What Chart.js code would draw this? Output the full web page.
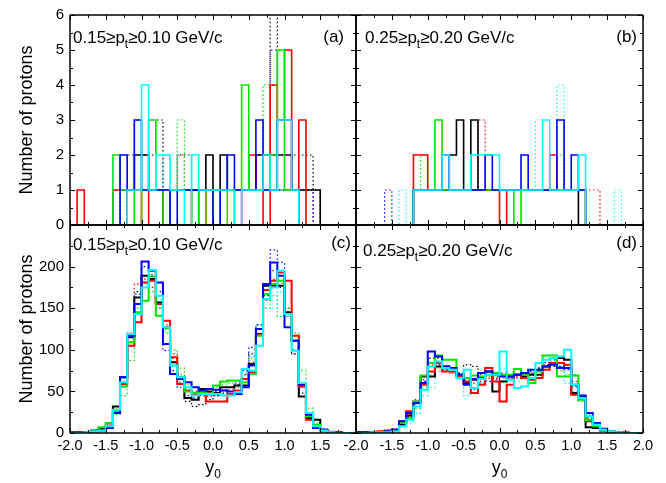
<!DOCTYPE html>
<html>
<head>
<meta charset="utf-8">
<script src="https://cdn.jsdelivr.net/npm/chart.js@4.4.0/dist/chart.umd.min.js"></script>
<style>
  html, body { margin: 0; padding: 0; background: #fff; }
  #wrap { position: relative; width: 666px; height: 483px; }
  #wrap canvas { position: absolute; left: 0; top: 0; }
</style>
</head>
<body>
<div id="wrap">
  <canvas id="pa" width="666" height="483"></canvas>
  <canvas id="pb" width="666" height="483"></canvas>
  <canvas id="pc" width="666" height="483"></canvas>
  <canvas id="pd" width="666" height="483"></canvas>
</div>
<script>
// y0 bins: 40 bins of 0.1 from -2.0 to 2.0
const binStart = -2.0, binWidth = 0.1;
const xTickValues = [-2.0, -1.5, -1.0, -0.5, 0.0, 0.5, 1.0, 1.5, 2.0];
const yTicksTop = [0, 1, 2, 3, 4, 5, 6];
const yTicksBottom = [0, 50, 100, 150, 200];

// (a) 0.15>=pt>=0.10, single events
const a_red    = [0,1,0,0,0,0,1,1,1,1,  0,1,1,0,1,1,1,0,1,0,  1,1,1,0,1,2,1,0,4,3,  5,1,3,0,0,0,0,0,0,0];
const a_green  = [0,0,0,0,0,0,2,1,1,0,  1,3,1,0,1,1,1,0,1,0,  1,0,1,1,4,1,1,1,2,5,  1,1,0,0,0,0,0,0,0,0];
const a_blue   = [0,0,0,0,0,0,0,2,1,3,  1,1,1,1,0,1,1,1,1,1,  0,1,2,1,1,1,3,1,1,3,  3,1,0,0,0,0,0,0,0,0];
const a_black  = [0,0,0,0,0,0,0,0,1,2,  2,1,1,0,1,1,1,1,1,2,  1,2,1,1,1,1,2,2,2,2,  2,1,1,1,1,0,0,0,0,0];
const a_cyan   = [0,0,0,0,0,0,0,0,1,1,  4,1,2,2,1,1,0,2,1,1,  1,1,1,0,1,1,1,2,1,3,  3,1,0,0,0,0,0,0,0,0];
const a_redD   = [0,0,0,0,0,0,1,1,0,1,  1,1,1,1,1,2,1,1,1,1,  0,1,1,1,1,1,1,1,4,1,  1,1,1,1,0,0,0,0,0,0];
const a_greenD = [0,0,0,0,0,0,1,1,1,1,  1,1,1,1,1,3,1,1,0,1,  1,1,1,1,1,1,1,4,1,1,  1,1,1,0,0,0,0,0,0,0];
const a_blueD  = [0,0,0,0,0,0,1,1,2,3,  1,1,1,1,1,1,1,1,1,1,  1,1,1,0,1,1,2,1,5,1,  1,1,1,1,0,0,0,0,0,0];
const a_blackD = [0,0,0,0,0,0,0,1,1,1,  2,2,3,1,1,2,2,1,1,1,  1,1,1,1,1,1,1,1,7,1,  1,2,2,2,1,0,0,0,0,0];
const a_cyanD  = [0,0,0,0,0,0,1,1,1,1,  1,1,1,2,2,1,1,1,1,1,  1,1,1,1,1,1,1,1,1,1,  1,1,0,0,0,0,0,0,0,0];

// (b) 0.25>=pt>=0.20, single events
const b_red    = [0,0,0,0,0,0,0,0,2,2,  1,1,1,1,1,1,1,1,1,1,  0,1,1,1,1,1,1,2,1,1,  1,1,0,0,0,0,0,0,0,0];
const b_green  = [0,0,0,0,0,0,0,0,1,1,  1,3,1,1,1,1,1,1,1,1,  1,1,0,1,1,1,1,1,1,1,  1,1,0,0,0,0,0,0,0,0];
const b_blue   = [0,0,0,0,0,0,0,0,1,1,  1,1,2,1,1,1,1,1,2,1,  1,1,1,2,1,1,1,1,3,1,  2,1,0,0,0,0,0,0,0,0];
const b_black  = [0,0,0,0,0,0,0,0,1,1,  1,1,1,2,3,1,3,1,1,1,  1,1,1,1,1,1,1,1,1,1,  1,0,0,0,0,0,0,0,0,0];
const b_cyan   = [0,0,0,0,0,0,0,0,1,1,  1,1,2,1,1,1,2,2,2,2,  1,1,1,1,1,1,3,1,1,1,  1,2,0,0,0,0,0,0,0,0];
const b_redD   = [0,0,0,0,0,0,0,0,1,1,  1,1,1,1,1,1,1,3,1,1,  1,1,1,1,1,1,1,1,1,1,  1,1,1,1,0,0,0,0,0,0];
const b_greenD = [0,0,0,0,0,0,0,0,1,2,  1,1,1,1,1,1,1,1,1,1,  1,1,1,1,1,1,1,1,2,1,  1,1,0,0,0,0,0,0,0,0];
const b_blueD  = [0,0,0,0,1,0,0,0,1,1,  1,1,1,1,1,1,1,1,1,1,  1,1,1,1,1,1,1,1,1,1,  1,1,0,0,0,0,0,0,0,0];
const b_blackD = [0,0,0,0,0,0,0,0,1,1,  1,1,1,1,1,1,1,1,1,1,  1,1,1,1,1,1,1,1,1,1,  1,0,0,0,0,0,0,0,0,0];
const b_cyanD  = [0,0,0,0,0,0,1,0,1,1,  1,1,1,1,1,1,1,1,1,1,  1,1,1,1,1,3,1,1,4,1,  1,1,0,0,0,0,1,0,0,0];

// (c) 0.15>=pt>=0.10, summed
const c_red    = [0,1,1,2,4,9,28,59,105,133,  181,183,155,135,91,59,51,47,48,38,  38,38,47,51,65,73,118,172,183,193,  183,117,56,16,6,3,1,1,0,0];
const c_green  = [0,0,1,3,7,12,26,56,109,145,  159,188,141,126,81,67,50,48,49,46,  57,62,63,63,61,71,117,167,179,183,  143,111,58,20,10,3,1,0,0,0];
const c_blue   = [0,0,1,2,3,6,24,67,117,155,  206,195,181,107,71,65,61,55,51,53,  52,51,50,47,55,81,125,179,205,189,  127,111,58,22,6,4,1,0,0,0];
const c_black  = [1,1,1,3,5,8,32,67,115,163,  189,185,157,127,85,67,42,40,53,50,  48,55,55,57,57,83,119,177,177,177,  145,111,44,18,16,4,1,1,0,0];
const c_cyan   = [0,0,1,2,3,8,28,61,119,143,  175,196,165,127,81,67,55,45,47,47,  47,45,45,49,77,75,105,161,175,195,  143,99,60,24,8,3,1,0,0,0];
const c_redD   = [0,0,1,2,4,9,25,55,120,179,  185,175,150,130,95,70,55,50,45,44,  45,50,52,55,70,85,120,160,185,180,  150,95,55,22,10,4,2,1,0,0];
const c_greenD = [0,0,1,2,4,8,22,45,87,150,  175,170,150,120,100,78,58,55,52,50,  55,58,60,62,70,90,130,150,165,140,  150,120,75,30,12,5,2,1,0,0];
const c_blueD  = [0,0,1,2,4,9,24,58,115,167,  180,185,170,99,75,55,45,42,50,48,  50,52,55,60,75,103,130,165,220,205,  140,95,55,20,8,3,1,0,0,0];
const c_blackD = [0,1,1,2,4,8,26,60,110,170,  200,190,155,125,90,60,38,32,34,40,  45,48,50,58,70,95,125,160,195,175,  140,100,48,18,8,3,1,0,0,0];
const c_cyanD  = [0,0,1,2,3,8,24,55,110,150,  178,182,160,122,85,62,50,47,48,50,  52,52,55,60,72,92,120,150,150,170,  140,100,55,20,8,3,1,0,0,0];

// (d) 0.25>=pt>=0.20, summed
const d_red    = [1,1,1,2,3,4,14,26,38,58,  74,84,74,74,68,62,48,58,78,62,  38,58,70,66,64,66,76,84,84,82,  46,42,14,8,4,2,1,1,0,0];
const d_green  = [0,1,1,1,2,3,12,18,38,69,  84,93,88,88,70,66,69,68,70,72,  70,70,77,70,60,74,93,93,68,68,  69,40,16,8,4,2,1,0,0,0];
const d_blue   = [1,1,1,1,2,4,14,24,36,60,  98,92,80,78,70,58,65,72,74,70,  68,68,70,72,76,76,80,82,78,78,  58,45,24,12,5,2,1,0,0,0];
const d_black  = [1,1,1,1,2,3,10,21,36,68,  68,80,80,78,70,60,64,66,74,50,  62,68,70,68,70,70,80,84,90,88,  48,44,7,6,3,2,1,0,0,0];
const d_cyan   = [0,0,1,1,1,2,8,16,32,52,  80,86,78,76,66,76,54,65,70,70,  98,64,54,56,66,84,88,90,92,100,  58,42,20,10,4,2,1,0,0,0];
const d_redD   = [0,0,1,2,3,5,12,22,40,62,  82,80,76,72,70,66,60,62,66,66,  62,65,68,70,72,75,80,82,80,76,  62,40,18,10,5,3,2,1,0,0];
const d_greenD = [0,0,1,1,2,3,8,16,30,55,  70,78,76,72,70,62,65,66,68,68,  66,68,70,72,70,78,80,82,75,70,  55,38,22,10,4,2,1,0,0,0];
const d_blueD  = [0,1,1,1,2,3,10,22,35,62,  85,82,76,74,72,65,52,60,62,64,  72,66,66,70,72,78,85,88,80,76,  56,40,20,10,5,2,1,0,0,0];
const d_blackD = [0,0,1,1,2,3,10,20,38,64,  90,90,80,76,72,82,80,70,70,66,  68,70,70,72,74,78,82,80,84,78,  70,45,18,8,4,2,1,0,0,0];
const d_cyanD  = [0,0,1,1,1,2,6,12,24,45,  55,74,76,72,64,45,52,60,64,72,  78,64,62,66,70,74,80,86,80,60,  50,42,24,12,5,2,1,0,0,0];

const FONT = '"Liberation Sans", Arial, sans-serif';
Chart.defaults.font.family = FONT;
Chart.defaults.color = '#000';

const COLORS = { red: '#ff0000', green: '#00e600', blue: '#0000ff', black: '#000000', cyan: '#00ffff' };

// points at bin left edges plus the closing edge; stepped 'before' holds each value across its bin
function histPoints(values) {
  const pts = values.map((v, i) => ({ x: binStart + i * binWidth, y: v }));
  pts.push({ x: binStart + values.length * binWidth, y: values[values.length - 1] });
  return pts;
}

function midpoints(arr) {
  const out = [];
  for (let i = 0; i < arr.length - 1; i++) out.push((arr[i] + arr[i + 1]) / 2);
  return out;
}

// frame, inward ticks on all four sides, panel captions
const panelDeco = {
  id: 'panelDeco',
  afterDraw(chart, args, o) {
    const { ctx, chartArea: a, scales: { x, y } } = chart;
    ctx.save();
    ctx.setLineDash([]);
    ctx.globalAlpha = 1;
    ctx.globalCompositeOperation = 'source-over';
    ctx.strokeStyle = '#000000';
    ctx.lineWidth = 1;
    const seg = (x1, y1, x2, y2) => { ctx.beginPath(); ctx.moveTo(x1, y1); ctx.lineTo(x2, y2); ctx.stroke(); };
    const xt = (vals, len) => vals.forEach(v => {
      const px = Math.round(x.getPixelForValue(v)) + 0.5;
      seg(px, a.bottom, px, a.bottom - len); seg(px, a.top, px, a.top + len);
    });
    const yt = (vals, len) => vals.forEach(v => {
      const py = Math.round(y.getPixelForValue(v)) + 0.5;
      seg(a.left, py, a.left + len, py); seg(a.right, py, a.right - len, py);
    });
    xt(xTickValues, 5); xt(midpoints(xTickValues), 3);
    yt(o.yMajor, 5); yt(midpoints(o.yMajor), 3);
    ctx.lineWidth = 1.5;
    seg(a.left, a.top, a.right, a.top);
    seg(a.right, a.top, a.right, a.bottom);
    seg(a.right, a.bottom, a.left, a.bottom);
    seg(a.left, a.bottom, a.left, a.top);

    // "hi>=p_t>=lo GeV/c"
    ctx.fillStyle = '#000';
    ctx.textBaseline = 'alphabetic';
    ctx.textAlign = 'left';
    let tx = o.capX;
    ctx.font = '17px ' + FONT;
    let s = o.ptHi + '\u2265p';
    ctx.fillText(s, tx, o.capY); tx += ctx.measureText(s).width;
    ctx.font = '12px ' + FONT;
    ctx.fillText('t', tx, o.capY + 5); tx += ctx.measureText('t').width;
    ctx.font = '17px ' + FONT;
    ctx.fillText('\u2265' + o.ptLo + ' GeV/c', tx, o.capY);
    ctx.textAlign = 'right';
    ctx.fillText(o.tag, o.tagX, o.tagY);

    if (o.xTitle) {
      const cx = (a.left + a.right) / 2;
      ctx.font = '18px ' + FONT;
      const w1 = ctx.measureText('y').width;
      ctx.font = '12px ' + FONT;
      const w2 = ctx.measureText('0').width;
      const lx = cx - (w1 + w2) / 2;
      ctx.textAlign = 'left';
      ctx.font = '18px ' + FONT;
      ctx.fillText('y', lx, 473);
      ctx.font = '12px ' + FONT;
      ctx.fillText('0', lx + w1, 478);
    }
    ctx.restore();
  }
};

function panelSets(s) {
  // first listed is drawn on top
  return [
    { v: s.cyan, c: COLORS.cyan }, { v: s.blue, c: COLORS.blue }, { v: s.green, c: COLORS.green },
    { v: s.red, c: COLORS.red }, { v: s.black, c: COLORS.black },
    { v: s.cyanD, c: COLORS.cyan, d: true }, { v: s.blueD, c: COLORS.blue, d: true },
    { v: s.greenD, c: COLORS.green, d: true }, { v: s.redD, c: COLORS.red, d: true },
    { v: s.blackD, c: COLORS.black, d: true }
  ];
}

function makePanel(id, sets, opt) {
  new Chart(document.getElementById(id), {
    type: 'line',
    data: {
      datasets: sets.map(s => ({
        data: histPoints(s.v),
        borderColor: s.c,
        borderWidth: s.d ? 1.2 : opt.lineWidth,
        borderDash: s.d ? [1.5, 2.5] : [],
        stepped: true,
        pointRadius: 0,
        fill: false
      }))
    },
    options: {
      responsive: false,
      animation: false,
      devicePixelRatio: 1,
      layout: { padding: opt.padding },
      plugins: { legend: { display: false }, tooltip: { enabled: false }, panelDeco: opt.deco },
      scales: {
        x: {
          type: 'linear', min: -2, max: 2, display: opt.showX,
          grid: { display: false, drawTicks: false }, border: { display: false },
          afterBuildTicks: sc => { sc.ticks = xTickValues.map(v => ({ value: v })); },
          afterFit: sc => { sc.height = opt.showX ? 50 : 0; },
          ticks: {
            padding: 4, autoSkip: false, maxRotation: 0, minRotation: 0,
            font: { size: 14.5 }, color: '#000',
            callback: v => (opt.hideLastX && v === 2) ? '' : Number(v).toFixed(1)
          }
        },
        y: {
          type: 'linear', min: 0, max: opt.yMax, display: opt.showY,
          grid: { display: false, drawTicks: false }, border: { display: false },
          afterBuildTicks: sc => { sc.ticks = opt.yTicks.map(v => ({ value: v })); },
          afterFit: sc => { sc.width = opt.showY ? 70 : 0; },
          title: { display: true, text: 'Number of protons', font: { size: 18 }, color: '#000', padding: { top: 16, bottom: 0 } },
          ticks: { padding: 6, font: { size: 15 }, color: '#000' }
        }
      }
    },
    plugins: [panelDeco]
  });
}

makePanel('pa', panelSets({ red: a_red, green: a_green, blue: a_blue, black: a_black, cyan: a_cyan,
  redD: a_redD, greenD: a_greenD, blueD: a_blueD, blackD: a_blackD, cyanD: a_cyanD }), {
  padding: { left: 0, top: 15, right: 310, bottom: 258 }, showX: false, showY: true,
  yMax: 6, yTicks: yTicksTop, lineWidth: 1.6,
  deco: { yMajor: yTicksTop, ptHi: '0.15', ptLo: '0.10', capX: 73, capY: 43, tag: '(a)', tagX: 344, tagY: 42 }
});
makePanel('pb', panelSets({ red: b_red, green: b_green, blue: b_blue, black: b_black, cyan: b_cyan,
  redD: b_redD, greenD: b_greenD, blueD: b_blueD, blackD: b_blackD, cyanD: b_cyanD }), {
  padding: { left: 356, top: 15, right: 23, bottom: 258 }, showX: false, showY: false,
  yMax: 6, yTicks: yTicksTop, lineWidth: 1.6,
  deco: { yMajor: yTicksTop, ptHi: '0.25', ptLo: '0.20', capX: 365, capY: 43, tag: '(b)', tagX: 637, tagY: 42 }
});
makePanel('pc', panelSets({ red: c_red, green: c_green, blue: c_blue, black: c_black, cyan: c_cyan,
  redD: c_redD, greenD: c_greenD, blueD: c_blueD, blackD: c_blackD, cyanD: c_cyanD }), {
  padding: { left: 0, top: 225, right: 310, bottom: 0 }, showX: true, showY: true, hideLastX: true,
  yMax: 250, yTicks: yTicksBottom, lineWidth: 2,
  deco: { yMajor: [0, 50, 100, 150, 200, 250], ptHi: '0.15', ptLo: '0.10', capX: 73, capY: 250, tag: '(c)', tagX: 351, tagY: 248, xTitle: true }
});
makePanel('pd', panelSets({ red: d_red, green: d_green, blue: d_blue, black: d_black, cyan: d_cyan,
  redD: d_redD, greenD: d_greenD, blueD: d_blueD, blackD: d_blackD, cyanD: d_cyanD }), {
  padding: { left: 356, top: 225, right: 23, bottom: 0 }, showX: true, showY: false,
  yMax: 250, yTicks: yTicksBottom, lineWidth: 2,
  deco: { yMajor: [0, 50, 100, 150, 200, 250], ptHi: '0.25', ptLo: '0.20', capX: 363, capY: 256, tag: '(d)', tagX: 637, tagY: 248, xTitle: true }
});
</script>
</body>
</html>
